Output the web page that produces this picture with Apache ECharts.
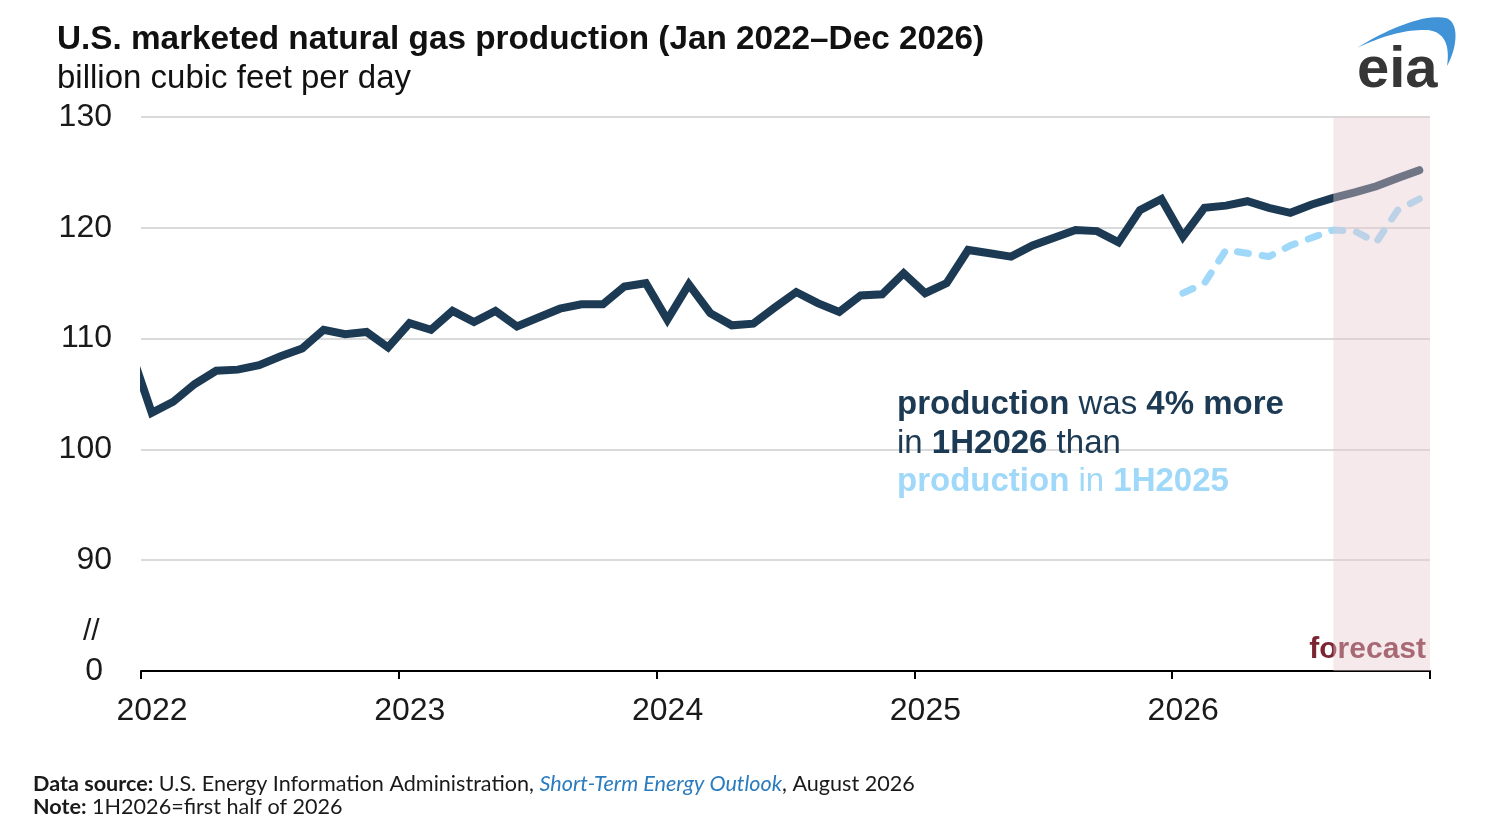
<!DOCTYPE html>
<html><head><meta charset="utf-8">
<script src="https://cdn.jsdelivr.net/npm/echarts@6/dist/echarts.min.js"></script>
<style>html,body{margin:0;padding:0;background:#fff}#c{width:1500px;height:834px}</style>
</head><body><div id="c"></div>
<script>
// ---- data ----
const startYear = 2022;                       // first January on the x axis
const yearLabels = ['2022', '2023', '2024', '2025', '2026'];
const yTickLabels = { 80: '0', 90: '90', 100: '100', 110: '110', 120: '120', 130: '130' }; // broken axis: 80 shown as 0
const productionDec2021 = 109.0;              // clipped at the left edge
const production2022 = [103.3, 104.3, 105.9, 107.1, 107.2, 107.6, 108.4, 109.1, 110.8, 110.4, 110.6, 109.2];
const production2023 = [111.4, 110.8, 112.5, 111.5, 112.5, 111.1, 111.9, 112.7, 113.1, 113.1, 114.7, 115.0];
const production2024 = [111.7, 114.9, 112.3, 111.2, 111.35, 112.8, 114.2, 113.2, 112.4, 113.9, 114.0, 115.9];
const production2025 = [114.1, 115.0, 118.0, 117.7, 117.4, 118.4, 119.1, 119.8, 119.7, 118.7, 121.6, 122.6];
const production2026 = [119.2, 121.8, 122.0, 122.4, 121.8, 121.35, 122.1, 122.7, 123.2, 123.75, 124.5, 125.2];
const forecastStartMonth = 55;                // Aug 2026 (months since Jan 2022)

// ---- build series ----
const production = [].concat(production2022, production2023, production2024, production2025, production2026);
const mainData = [[-0.5, productionDec2021]].concat(production.map((v, i) => [i + 0.5, v]));
const priorYearData = production2025.map((v, i) => [48 + i + 0.5, v]); // 2025 values shown at same months of 2026

const FONT = 'Liberation Sans, Arial, sans-serif';
const DARK = '#1c3a53';
const LIGHT = '#9fd8f8';

// logo crescent (cubic bezier segments sampled into a polygon)
function bez(p0, p1, p2, p3, n) {
  const out = [];
  for (let k = 0; k <= n; k++) {
    const t = k / n, u = 1 - t;
    out.push([
      u*u*u*p0[0] + 3*u*u*t*p1[0] + 3*u*t*t*p2[0] + t*t*t*p3[0],
      u*u*u*p0[1] + 3*u*u*t*p1[1] + 3*u*t*t*p2[1] + t*t*t*p3[1]
    ]);
  }
  return out;
}
const logoPts = [].concat(
  bez([1357, 48], [1385, 30], [1425, 13], [1446, 18], 20),
  bez([1446, 18], [1459, 22], [1458, 46], [1447, 66], 20),
  bez([1447, 66], [1450, 46], [1445, 32], [1428, 30], 20),
  bez([1428, 30], [1405, 29], [1380, 37], [1357, 48], 20)
);

const chart = echarts.init(document.getElementById('c'), null, { renderer: 'canvas' });
chart.setOption({
  animation: false,
  backgroundColor: '#fff',
  title: {
    left: 57, top: 23, padding: 0,
    text: 'U.S. marketed natural gas production (Jan 2022\u2013Dec 2026)',
    subtext: 'billion cubic feet per day',
    itemGap: 6,
    textStyle: { fontFamily: FONT, fontSize: 33.3, fontWeight: 'bold', color: '#111' },
    subtextStyle: { fontFamily: FONT, fontSize: 33, color: '#111' }
  },
  grid: { left: 141, right: 70, top: 117, bottom: 163, containLabel: false },
  xAxis: {
    type: 'value', min: 0, max: 60, interval: 12,
    axisLine: { show: true, lineStyle: { color: '#000', width: 2 } },
    axisTick: { show: true, length: 8, lineStyle: { color: '#000', width: 2 } },
    splitLine: { show: false },
    axisLabel: {
      formatter: v => (v % 12 === 0 && v / 12 < yearLabels.length) ? yearLabels[v / 12] : '',
      fontFamily: FONT, fontSize: 32, color: '#1a1a1a', margin: 24, padding: [0, 0, 0, 22]
    }
  },
  yAxis: {
    type: 'value', min: 80, max: 130, interval: 10,
    axisLine: { show: false }, axisTick: { show: false },
    splitLine: { lineStyle: { color: '#dadada', width: 2 } },
    axisLabel: {
      formatter: v => v === 80 ? '{z|' + yTickLabels[v] + '}' : (yTickLabels[v] || ''),
      fontFamily: FONT, fontSize: 32, color: '#1a1a1a', margin: 29,
      rich: { z: { fontFamily: FONT, fontSize: 32, color: '#1a1a1a', padding: [0, 9, 0, 0] } }
    }
  },
  series: [
    {
      type: 'line', data: mainData, symbol: 'none', z: 3, clip: true,
      lineStyle: { color: DARK, width: 8, cap: 'round', join: 'miter' }
    },
    {
      type: 'line', data: priorYearData, symbol: 'none', z: 2,
      lineStyle: { color: LIGHT, width: 7, type: [11, 14], cap: 'round', join: 'round' }
    },
    {
      type: 'custom', z: 10, silent: true,
      data: [[forecastStartMonth + 0.5, 60]],
      renderItem: (params, api) => {
        const p0 = api.coord([api.value(0), 130]);
        const p1 = api.coord([api.value(1), 80]);
        return { type: 'rect', shape: { x: p0[0], y: p0[1], width: p1[0] - p0[0], height: p1[1] - p0[1] },
                 style: { fill: 'rgba(231,202,207,0.42)' } };
      }
    }
  ],
  graphic: [
    // white strip hides the clipped line's overhang left of the plot
    { type: 'rect', z: 50, shape: { x: 120, y: 300, width: 20, height: 120 }, style: { fill: '#fff' } },
    { type: 'text', z: 100, x: 83, y: 632,
      style: { text: '//', font: '30px ' + FONT, fill: '#1a1a1a', align: 'left', verticalAlign: 'middle' } },
    { type: 'text', z: 1, x: 1426, y: 650,
      style: { text: 'forecast', font: 'bold 30px ' + FONT, fill: '#7b2432', align: 'right', verticalAlign: 'middle' } },
    { type: 'text', z: 100, x: 897, y: 386,
      style: {
        text: '{b|production} {r|was} {b|4% more}\n{r|in} {b|1H2026} {r|than}\n{lb|production} {lr|in} {lb|1H2025}',
        verticalAlign: 'top', align: 'left',
        font: '33px ' + FONT, fill: DARK, lineHeight: 38.5,
        rich: {
          b: { fontFamily: FONT, fontSize: 33, fontWeight: 'bold', fill: DARK, lineHeight: 38.5 },
          r: { fontFamily: FONT, fontSize: 33, fill: DARK, lineHeight: 38.5 },
          lb: { fontFamily: FONT, fontSize: 33, fontWeight: 'bold', fill: LIGHT, lineHeight: 38.5 },
          lr: { fontFamily: FONT, fontSize: 33, fill: LIGHT, lineHeight: 38.5 }
        }
      } },
    { type: 'text', z: 100, x: 33, y: 773,
      style: {
        text: '{b|Data source:} {r|U.S. Energy Information Administration, }{i|Short-Term Energy Outlook}{r|, August 2026}\n{b|Note:} {r|1H2026=first half of 2026}',
        verticalAlign: 'top', align: 'left',
        font: '21.6px Lato', fill: '#1a1a1a', lineHeight: 23,
        rich: {
          b: { fontFamily: 'Lato', fontSize: 21.6, fontWeight: 'bold', fill: '#1a1a1a', lineHeight: 23 },
          r: { fontFamily: 'Lato', fontSize: 21.6, fill: '#1a1a1a', lineHeight: 23 },
          i: { fontFamily: 'Lato', fontSize: 21.6, fontStyle: 'italic', fill: '#2b7bbf', lineHeight: 23 }
        }
      } },
    { type: 'polygon', z: 100, shape: { points: logoPts }, style: { fill: '#3f93d6' } },
    { type: 'text', z: 100, x: 1357, y: 100,
      style: { text: 'eia', font: 'bold 58px ' + FONT, fill: '#363636', align: 'left', verticalAlign: 'bottom' } }
  ]
});
</script></body></html>
